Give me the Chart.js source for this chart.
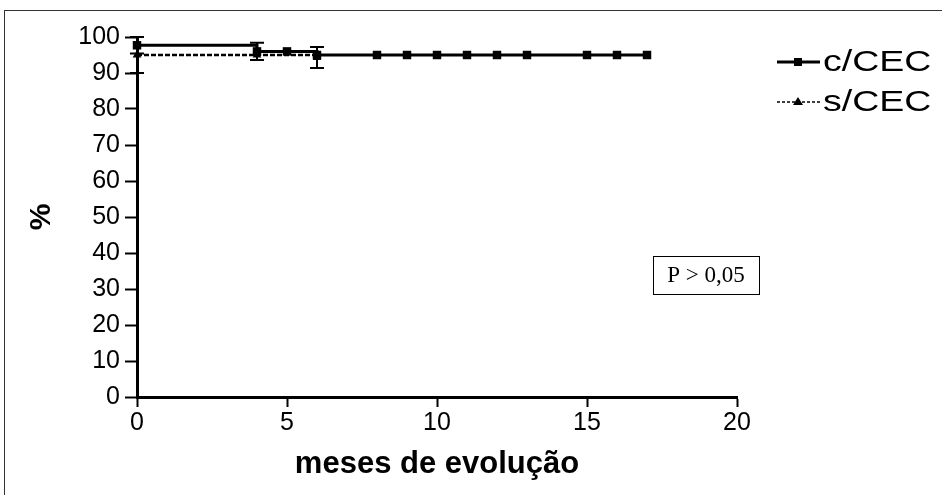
<!DOCTYPE html>
<html>
<head>
<meta charset="utf-8">
<script src="https://cdn.jsdelivr.net/npm/chart.js@4.4.0/dist/chart.umd.min.js"></script>
<style>
html, body { margin: 0; padding: 0; background: #fff; }
#wrap { position: relative; width: 942px; height: 495px; }
</style>
</head>
<body>
<div id="wrap"><canvas id="j_sobrevida" width="942" height="495"></canvas></div>
<script>
// dados
var mesesCCEC = [0, 4, 5, 6, 8, 9, 10, 11, 12, 13, 15, 16, 17];
var valoresCCEC = [97.7, 96, 96, 95, 95, 95, 95, 95, 95, 95, 95, 95, 95];
var errosCCEC = [2.3, 2.4, 0, 0, 0, 0, 0, 0, 0, 0, 0, 0, 0];

var mesesSCEC = [0, 4, 6];
var valoresSCEC = [95, 95, 94.3];
var errosSCEC = [5, 0, 2.9];

var ticksX = [0, 5, 10, 15, 20];
var ticksY = [0, 10, 20, 30, 40, 50, 60, 70, 80, 90, 100];

var legendas = ["c/CEC", "s/CEC"];
var textoP = "P > 0,05";

function pontos(xs, ys) {
    return xs.map(function (x, i) {
        return { x: x, y: ys[i] };
    });
}

var extras = {
    id: "extras",
    afterDatasetsDraw: function (chart) {
        var ctx = chart.ctx;
        var sx = chart.scales.x;
        var sy = chart.scales.y;
        ctx.save();
        ctx.strokeStyle = "#000";
        ctx.lineWidth = 2;
        [[mesesCCEC, valoresCCEC, errosCCEC], [mesesSCEC, valoresSCEC, errosSCEC]].forEach(function (s) {
            s[0].forEach(function (m, i) {
                var e = s[2][i];
                if (!e) return;
                var px = sx.getPixelForValue(m);
                var y1 = sy.getPixelForValue(s[1][i] + e);
                var y2 = sy.getPixelForValue(s[1][i] - e);
                ctx.beginPath();
                ctx.moveTo(px, y1);
                ctx.lineTo(px, y2);
                ctx.moveTo(px - 7, y1);
                ctx.lineTo(px + 7, y1);
                ctx.moveTo(px - 7, y2);
                ctx.lineTo(px + 7, y2);
                ctx.stroke();
            });
        });
        ctx.restore();
    },
    afterDraw: function (chart) {
        var ctx = chart.ctx;
        ctx.save();
        // moldura
        ctx.strokeStyle = "#333";
        ctx.lineWidth = 1;
        ctx.strokeRect(4.5, 10.5, 1000, 600);

        // legenda
        ctx.strokeStyle = "#000";
        ctx.fillStyle = "#000";
        ctx.lineWidth = 3;
        ctx.beginPath();
        ctx.moveTo(777, 62);
        ctx.lineTo(820, 62);
        ctx.stroke();
        ctx.fillRect(794, 58, 8, 8);

        ctx.lineWidth = 1.5;
        ctx.setLineDash([3, 2]);
        ctx.beginPath();
        ctx.moveTo(777, 102);
        ctx.lineTo(820, 102);
        ctx.stroke();
        ctx.setLineDash([]);
        ctx.beginPath();
        ctx.moveTo(798, 97);
        ctx.lineTo(803, 105);
        ctx.lineTo(793, 105);
        ctx.closePath();
        ctx.fill();

        ctx.font = "30px 'Liberation Sans', Arial, sans-serif";
        ctx.textBaseline = "middle";
        ctx.textAlign = "left";
        [[legendas[0], 63], [legendas[1], 103]].forEach(function (l) {
            ctx.save();
            ctx.translate(823, l[1]);
            ctx.scale(1.25, 1);
            ctx.fillText(l[0], 0, 0);
            ctx.restore();
        });

        // caixa P
        ctx.lineWidth = 1;
        ctx.strokeRect(653.5, 256.5, 106, 38);
        ctx.font = "23px 'Liberation Serif', 'Times New Roman', serif";
        ctx.textAlign = "center";
        ctx.fillText(textoP, 706, 276);
        ctx.restore();
    },
};

var ctx1 = document.getElementById("j_sobrevida");

new Chart(ctx1, {
    type: "line",
    data: {
        datasets: [
            {
                label: legendas[0],
                data: pontos(mesesCCEC, valoresCCEC),
                stepped: "before",
                borderColor: "#000",
                backgroundColor: "#000",
                borderWidth: 3,
                pointStyle: "rect",
                pointRadius: 6,
                pointBorderWidth: 0,
            },
            {
                label: legendas[1],
                data: pontos(mesesSCEC, valoresSCEC),
                stepped: "before",
                borderColor: "#000",
                backgroundColor: "#000",
                borderWidth: 2.5,
                borderDash: [5, 2],
                pointStyle: "triangle",
                pointRadius: 5,
                pointBorderWidth: 0,
            },
        ],
    },
    options: {
        responsive: false,
        animation: false,
        devicePixelRatio: 1,
        clip: false,
        layout: {
            padding: { left: 0, right: 205, top: 37, bottom: 0 },
        },
        plugins: {
            legend: { display: false },
            tooltip: { enabled: false },
        },
        scales: {
            x: {
                type: "linear",
                min: 0,
                max: 20,
                afterBuildTicks: function (scale) {
                    scale.ticks = ticksX.map(function (v) { return { value: v }; });
                },
                afterFit: function (scale) {
                    scale.height = 98;
                },
                grid: {
                    drawOnChartArea: false,
                    tickLength: 10,
                    tickColor: "#000",
                    tickWidth: 2,
                },
                border: { display: true, color: "#000", width: 3 },
                ticks: {
                    color: "#000",
                    padding: 1,
                    maxRotation: 0,
                    font: { family: "'Liberation Sans', Arial, sans-serif", size: 25 },
                },
                title: {
                    display: true,
                    text: "meses de evolução",
                    color: "#000",
                    padding: { top: 0, bottom: 12 },
                    font: { family: "'Liberation Sans', Arial, sans-serif", size: 31, weight: "bold" },
                },
            },
            y: {
                min: 0,
                max: 100,
                afterBuildTicks: function (scale) {
                    scale.ticks = ticksY.map(function (v) { return { value: v }; });
                },
                afterFit: function (scale) {
                    scale.width = 137;
                },
                grid: {
                    drawOnChartArea: false,
                    tickLength: 12,
                    tickColor: "#000",
                    tickWidth: 2,
                },
                border: { display: true, color: "#000", width: 3 },
                ticks: {
                    color: "#000",
                    padding: 5,
                    font: { family: "'Liberation Sans', Arial, sans-serif", size: 25 },
                },
                title: {
                    display: true,
                    text: "%",
                    color: "#000",
                    padding: { top: 24, bottom: 0 },
                    font: { family: "'Liberation Sans', Arial, sans-serif", size: 30, weight: "bold" },
                },
            },
        },
    },
    plugins: [extras],
});
</script>
</body>
</html>
